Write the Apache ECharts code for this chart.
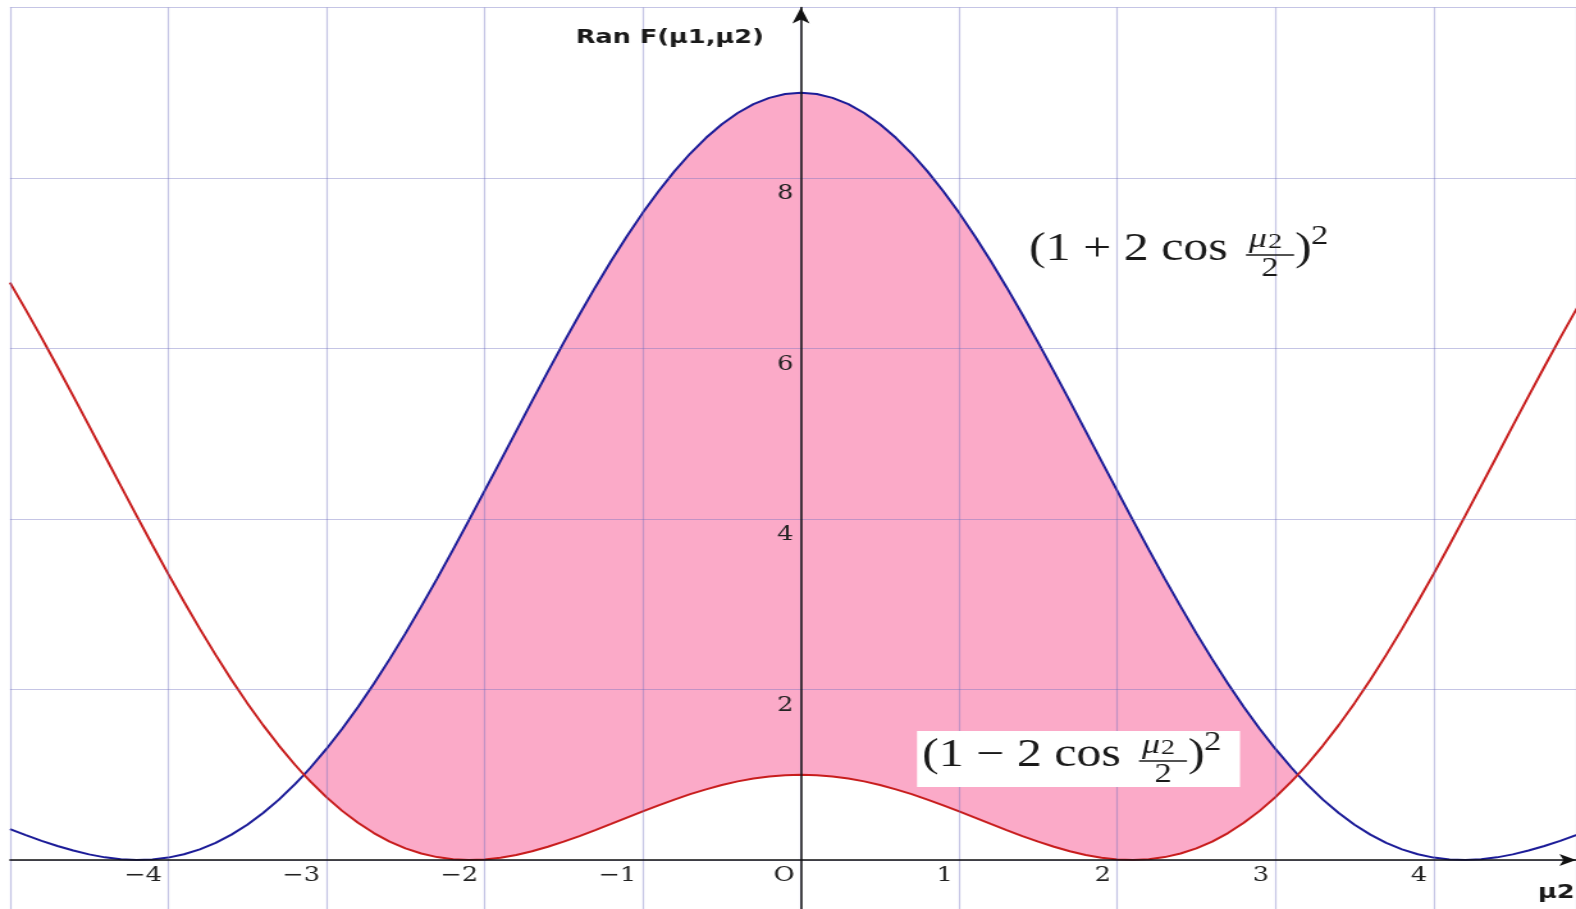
<!DOCTYPE html>
<html>
<head>
<meta charset="utf-8">
<script src="https://cdn.jsdelivr.net/npm/echarts@6/dist/echarts.min.js"></script>
<style>
  html, body { margin: 0; padding: 0; background: #fff; overflow: hidden; }
  /* the plot is drawn narrower and widened horizontally, like the original graph */
  #chart { width: 1231px; height: 909px; transform: scaleX(1.28026); transform-origin: 0 0; }
</style>
</head>
<body>
<div id="chart"></div>
<script>
// horizontal widening factor applied by CSS
const STRETCH = 1576 / 1231;

// sample positions along μ2 (the two ±3.1416 entries are where the curves cross)
const mu2 = [
  -5.0, -4.9, -4.8, -4.7, -4.6, -4.5, -4.4, -4.3, -4.2, -4.1,
  -4.0, -3.9, -3.8, -3.7, -3.6, -3.5, -3.4, -3.3, -3.2, -3.1416, -3.1,
  -3.0, -2.9, -2.8, -2.7, -2.6, -2.5, -2.4, -2.3, -2.2, -2.1,
  -2.0, -1.9, -1.8, -1.7, -1.6, -1.5, -1.4, -1.3, -1.2, -1.1,
  -1.0, -0.9, -0.8, -0.7, -0.6, -0.5, -0.4, -0.3, -0.2, -0.1,
  0.0,
  0.1, 0.2, 0.3, 0.4, 0.5, 0.6, 0.7, 0.8, 0.9, 1.0,
  1.1, 1.2, 1.3, 1.4, 1.5, 1.6, 1.7, 1.8, 1.9, 2.0,
  2.1, 2.2, 2.3, 2.4, 2.5, 2.6, 2.7, 2.8, 2.9, 3.0,
  3.1, 3.1416, 3.2, 3.3, 3.4, 3.5, 3.6, 3.7, 3.8, 3.9, 4.0,
  4.1, 4.2, 4.3, 4.4, 4.5, 4.6, 4.7, 4.8, 4.9, 5.0
];

// (1 + 2 cos μ2/2)^2  — blue curve
const upperCurve = [
  0.363, 0.292, 0.225, 0.164, 0.111, 0.066, 0.031, 0.009, 0.000, 0.006,
  0.028, 0.067, 0.125, 0.201, 0.298, 0.414, 0.551, 0.709, 0.887, 1.000, 1.085,
  1.303, 1.540, 1.795, 2.068, 2.356, 2.659, 2.975, 3.301, 3.637, 3.981,
  4.329, 4.680, 5.032, 5.382, 5.728, 6.068, 6.399, 6.719, 7.026, 7.317,
  7.591, 7.845, 8.078, 8.287, 8.472, 8.631, 8.762, 8.866, 8.940, 8.985,
  9.000,
  8.985, 8.940, 8.866, 8.762, 8.631, 8.472, 8.287, 8.078, 7.845, 7.591,
  7.317, 7.026, 6.719, 6.399, 6.068, 5.728, 5.382, 5.032, 4.680, 4.329,
  3.981, 3.637, 3.301, 2.975, 2.659, 2.356, 2.068, 1.795, 1.540, 1.303,
  1.085, 1.000, 0.887, 0.709, 0.551, 0.414, 0.298, 0.201, 0.125, 0.067, 0.028,
  0.006, 0.000, 0.009, 0.031, 0.066, 0.111, 0.164, 0.225, 0.292, 0.363
];

// (1 - 2 cos μ2/2)^2  — red curve
const lowerCurve = [
  6.772, 6.454, 6.125, 5.786, 5.441, 5.091, 4.739, 4.388, 4.039, 3.695,
  3.357, 3.029, 2.711, 2.406, 2.115, 1.840, 1.582, 1.342, 1.120, 1.000, 0.919,
  0.737, 0.576, 0.436, 0.316, 0.216, 0.136, 0.076, 0.034, 0.009, 0.000,
  0.006, 0.027, 0.059, 0.102, 0.155, 0.215, 0.281, 0.351, 0.423, 0.497,
  0.570, 0.641, 0.709, 0.772, 0.829, 0.880, 0.922, 0.956, 0.980, 0.995,
  1.000,
  0.995, 0.980, 0.956, 0.922, 0.880, 0.829, 0.772, 0.709, 0.641, 0.570,
  0.497, 0.423, 0.351, 0.281, 0.215, 0.155, 0.102, 0.059, 0.027, 0.006,
  0.000, 0.009, 0.034, 0.076, 0.136, 0.216, 0.316, 0.436, 0.576, 0.737,
  0.919, 1.000, 1.120, 1.342, 1.582, 1.840, 2.115, 2.406, 2.711, 3.029, 3.357,
  3.695, 4.039, 4.388, 4.739, 5.091, 5.441, 5.786, 6.125, 6.454, 6.772
];

// the shaded band lies between the crossings
const bandLimits = [-3.1416, 3.1416];

const xTickValues = [-4, -3, -2, -1, 0, 1, 2, 3, 4];
const xTickLabels = ['\u22124', '\u22123', '\u22122', '\u22121', 'O', '1', '2', '3', '4'];
const yTickValues = [2, 4, 6, 8];
const yTickLabels = ['2', '4', '6', '8'];

const pairs = (ys) => mu2.map((x, i) => [x, ys[i]]);
const inBand = (p) => p[0] >= bandLimits[0] - 1e-6 && p[0] <= bandLimits[1] + 1e-6;

function tickText(values, labels, v) {
  for (let i = 0; i < values.length; i++) {
    if (Math.abs(values[i] - v) < 1e-6) return labels[i];
  }
  return '';
}

// one formula label "(1 ± 2 cos μ2/2)²", laid out from its left edge and middle line
function formula(sign, left, mid) {
  const sx = (v) => v / STRETCH;
  const font = 'Liberation Serif';
  const ink = '#1a1a1a';
  const t = (text, x, y, size, extra) => Object.assign({
    type: 'text', x: sx(x), y: y, z: 12,
    style: Object.assign({
      text: text, fontFamily: font, fontSize: size, fill: ink,
      align: 'left', verticalAlign: 'middle', textAlign: 'left', textVerticalAlign: 'middle'
    }, extra || {})
  });
  return [
    t('(1 ' + sign + ' 2 cos', left, mid, 39),
    t('\u03bc', left + 220, mid - 10, 28, { fontStyle: 'italic' }),
    t('2', left + 239, mid - 8, 22),
    {
      type: 'line', z: 12,
      shape: { x1: sx(left + 217), y1: mid + 5, x2: sx(left + 265), y2: mid + 5 },
      style: { stroke: ink, lineWidth: 1.4 }
    },
    t('2', left + 241, mid + 19, 27, { align: 'center', textAlign: 'center' }),
    t(')', left + 266, mid, 39),
    t('2', left + 282, mid - 13, 27)
  ];
}

const chart = echarts.init(document.getElementById('chart'), null, { renderer: 'canvas' });

const splitStyle = { color: 'rgba(110,110,190,0.4)', width: 1.2 };

chart.setOption({
  backgroundColor: '#ffffff',
  animation: false,
  grid: { left: 10 / STRETCH, right: 0, top: 7.5, bottom: -121.5, outerBoundsMode: 'none', containLabel: false },
  xAxis: {
    type: 'value', min: -5, max: 4.9, interval: 1, z: 5,
    position: 'bottom', offset: -170.5,
    axisLine: {
      onZero: false, symbol: ['none', 'arrow'], symbolSize: [9, 13],
      lineStyle: { color: '#111', width: 1.5 }
    },
    axisTick: { show: false },
    splitLine: { show: true, lineStyle: splitStyle },
    axisLabel: {
      formatter: (v) => tickText(xTickValues, xTickLabels, v),
      fontFamily: 'DejaVu Serif', fontSize: 20, color: '#222',
      align: 'right', verticalAlign: 'top', margin: 6, padding: [0, 5, 0, 0]
    },
    name: '\u03bc2', nameLocation: 'end', nameGap: 0, nameMoveOverlap: false,
    nameTextStyle: {
      fontFamily: 'DejaVu Sans', fontWeight: 'bold', fontSize: 20, color: '#1a1a1a',
      align: 'right', verticalAlign: 'top', padding: [23, 1, 0, 0]
    }
  },
  yAxis: {
    type: 'value', min: -2, max: 10, interval: 2, z: 5,
    position: 'left', offset: -617.8,
    axisLine: {
      onZero: false, symbol: ['none', 'arrow'], symbolSize: [10, 16],
      lineStyle: { color: '#111', width: 1.5 }
    },
    axisTick: { show: false },
    splitLine: { show: true, lineStyle: splitStyle },
    axisLabel: {
      formatter: (v) => tickText(yTickValues, yTickLabels, v),
      fontFamily: 'DejaVu Serif', fontSize: 20, color: '#222',
      verticalAlign: 'top', margin: 6, padding: [6, 0, 0, 0]
    },
    name: 'Ran F(\u03bc1,\u03bc2)', nameLocation: 'end', nameGap: -30, nameMoveOverlap: false,
    nameTextStyle: {
      fontFamily: 'DejaVu Sans', fontWeight: 'bold', fontSize: 20, color: '#1a1a1a',
      align: 'right', verticalAlign: 'middle', padding: [0, 29, 0, 0]
    }
  },
  series: [
    {
      // pink band: filled under the blue curve between the crossings...
      type: 'line', data: pairs(upperCurve).filter(inBand), symbol: 'none',
      lineStyle: { opacity: 0 }, areaStyle: { color: '#fbaac8', opacity: 1 }, z: 1, silent: true
    },
    {
      // ...then cleared again everywhere under the red curve
      type: 'line', data: pairs(lowerCurve), symbol: 'none',
      lineStyle: { opacity: 0 }, areaStyle: { color: '#ffffff', opacity: 1 }, z: 2, silent: true
    },
    {
      type: 'line', name: '(1 + 2 cos \u03bc2/2)\u00b2', data: pairs(upperCurve),
      symbol: 'none', lineStyle: { color: '#1c1c98', width: 2 }, z: 3
    },
    {
      type: 'line', name: '(1 \u2212 2 cos \u03bc2/2)\u00b2', data: pairs(lowerCurve),
      symbol: 'none', lineStyle: { color: '#c81d1d', width: 2 }, z: 3
    }
  ],
  graphic: [
    ...formula('+', 1029, 250),
    {
      type: 'rect', z: 11,
      shape: { x: 917 / STRETCH, y: 731, width: (1240 - 917) / STRETCH, height: 56 },
      style: { fill: '#ffffff' }
    },
    ...formula('\u2212', 922, 756)
  ]
});
</script>
</body>
</html>
